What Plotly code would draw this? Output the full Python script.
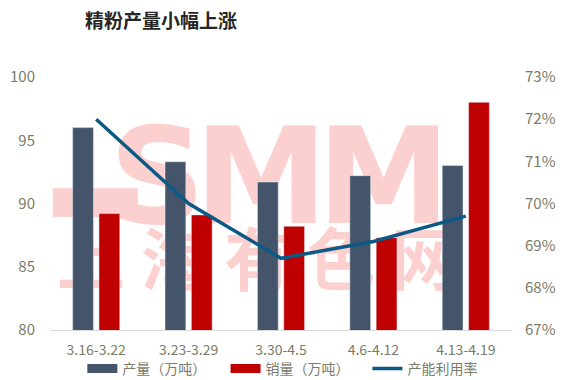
import plotly.graph_objects as go

categories = ["3.16-3.22", "3.23-3.29", "3.30-4.5", "4.6-4.12", "4.13-4.19"]
production = [96.0, 93.3, 91.7, 92.2, 93.0]
sales = [89.2, 89.1, 88.2, 87.3, 98.0]
utilization = [0.720, 0.700, 0.687, 0.691, 0.697]

left_ticks = [80, 85, 90, 95, 100]
right_ticks = [0.67, 0.68, 0.69, 0.70, 0.71, 0.72, 0.73]

title_text = "精粉产量小幅上涨"
name_prod = "产量（万吨）"
name_sales = "销量（万吨）"
name_util = "产能利用率"

FONT = "Noto Sans CJK SC, Noto Sans, sans-serif"
TICK_COLOR = "#7b7b68"
PINK = "#fdd0d0"
C_PROD = "#44546a"
C_SALES = "#c00000"
C_LINE = "#0b5a86"

fig = go.Figure()

# watermark (drawn on base subplot, below bars)
fig.add_trace(go.Scatter(
    x=[0.232, 0.457, 0.722], y=[0.555, 0.555, 0.555], mode="text",
    text=["<b>S</b>", "<b>M</b>", "<b>M</b>"],
    textfont=dict(family="DejaVu Sans, sans-serif", size=134, color=PINK),
    xaxis="x", yaxis="y", showlegend=False, hoverinfo="skip", cliponaxis=False))
fig.add_trace(go.Scatter(
    x=[0.45], y=[0.245], mode="text", text=["<b>上 海 有 色 网</b>"],
    textfont=dict(family="Noto Sans CJK SC", size=68, color=PINK),
    xaxis="x", yaxis="y", showlegend=False, hoverinfo="skip", cliponaxis=False))

fig.add_trace(go.Bar(
    x=categories, y=production, name=name_prod, marker_color=C_PROD,
    xaxis="x2", yaxis="y2", showlegend=False))
fig.add_trace(go.Bar(
    x=categories, y=sales, name=name_sales, marker_color=C_SALES,
    xaxis="x2", yaxis="y2", showlegend=False))
fig.add_trace(go.Scatter(
    x=categories, y=utilization, name=name_util, mode="lines",
    line=dict(color=C_LINE, width=3.5),
    xaxis="x2", yaxis="y3", legend="legend3"))

# legend keys for the bars drawn as wide rectangles (as in the reference)
fig.add_trace(go.Scatter(
    x=[None], y=[None], name=name_prod, mode="lines",
    line=dict(color=C_PROD, width=9), xaxis="x2", yaxis="y2", legend="legend"))
fig.add_trace(go.Scatter(
    x=[None], y=[None], name=name_sales, mode="lines",
    line=dict(color=C_SALES, width=9), xaxis="x2", yaxis="y2", legend="legend2"))

leg_common = dict(orientation="h", xanchor="left", y=-0.154, yanchor="middle",
                  font=dict(family=FONT, size=14, color=TICK_COLOR),
                  bgcolor="rgba(0,0,0,0)", borderwidth=0)

# page body has an 8px margin: figure is offset by 8px, so size/margins compensate
fig.update_layout(
    width=561, height=372,
    margin=dict(l=42, r=57, t=69, b=50, autoexpand=False),
    paper_bgcolor="white", plot_bgcolor="white",
    font=dict(family=FONT, color=TICK_COLOR, size=14),
    title=dict(text="<b>" + title_text + "</b>", x=77 / 561, xanchor="left",
               y=1 - 13 / 372, yanchor="middle",
               font=dict(family=FONT, size=19, color="#262626")),
    barmode="group", bargap=0.43, bargroupgap=0.21,
    showlegend=True,
    legend=dict(x=0.070, **leg_common),
    legend2=dict(x=0.380, **leg_common),
    legend3=dict(x=0.687, **leg_common),
    xaxis=dict(range=[0, 1], visible=False, fixedrange=True, automargin=False),
    yaxis=dict(range=[0, 1], visible=False, fixedrange=True, automargin=False),
    xaxis2=dict(overlaying="x", type="category", showgrid=False, showline=True,
                linecolor="#d9d9d9", linewidth=1, ticks="", side="bottom",
                automargin=False, ticklabelstandoff=7,
                tickfont=dict(family=FONT, size=14, color=TICK_COLOR)),
    yaxis2=dict(overlaying="y", side="left", range=[80, 100], tickvals=left_ticks,
                showgrid=False, zeroline=False, showline=False, ticks="",
                ticklabelstandoff=14, automargin=False,
                tickfont=dict(family=FONT, size=15, color=TICK_COLOR)),
    yaxis3=dict(overlaying="y", side="right", range=[0.67, 0.73], tickvals=right_ticks,
                tickformat=".0%", showgrid=False, zeroline=False, showline=False,
                ticks="", ticklabelstandoff=12, automargin=False,
                tickfont=dict(family=FONT, size=15, color=TICK_COLOR)),
    shapes=[dict(type="rect", xref="x", yref="y", x0=0.006, x1=0.19, y0=0.447, y1=0.56,
                 fillcolor=PINK, line_width=0, layer="below")],
)

fig.write_html("out.html")
